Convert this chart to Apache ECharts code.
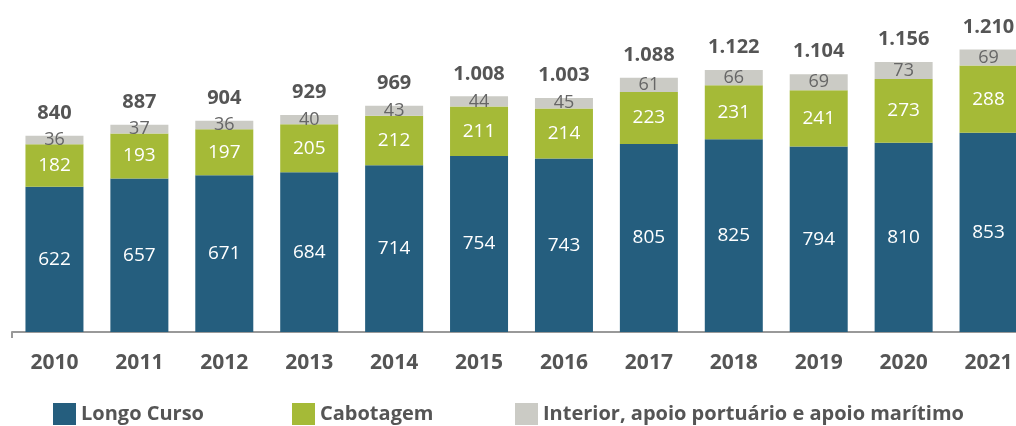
<!DOCTYPE html>
<html>
<head>
<meta charset="utf-8">
<script src="https://cdn.jsdelivr.net/npm/echarts@6/dist/echarts.min.js"></script>
<style>
  html, body { margin: 0; padding: 0; background: #fff; }
  #chart { width: 1016px; height: 426px; }
</style>
</head>
<body>
<div id="chart"></div>
<script>
var years = ['2010', '2011', '2012', '2013', '2014', '2015', '2016', '2017', '2018', '2019', '2020', '2021'];
var longoCurso = [622, 657, 671, 684, 714, 754, 743, 805, 825, 794, 810, 853];
var cabotagem = [182, 193, 197, 205, 212, 211, 214, 223, 231, 241, 273, 288];
var interior = [36, 37, 36, 40, 43, 44, 45, 61, 66, 69, 73, 69];
var totais = [840, 887, 904, 929, 969, 1008, 1003, 1088, 1122, 1104, 1156, 1210];

var textColor = '#555555';
var font = '"Open Sans", Lato, sans-serif';

function fmt(v) {
    return String(v).replace(/\B(?=(\d{3})+(?!\d))/g, '.');
}

var chartDom = document.getElementById('chart');
var myChart = echarts.init(chartDom);
var option;

option = {
    animation: false,
    textStyle: { fontFamily: font },
    grid: {
        left: 12,
        width: 1019,
        top: 5,
        bottom: 94,
        outerBoundsMode: 'none'
    },
    legend: [
        { data: ['Longo Curso'], left: 53, top: 403 },
        { data: ['Cabotagem'], left: 292, top: 403 },
        { data: ['Interior, apoio portuário e apoio marítimo'], left: 515, top: 403 }
    ].map(function (l) {
        l.itemWidth = 23;
        l.itemHeight = 22;
        l.itemGap = 8;
        l.padding = 0;
        l.icon = 'rect';
        l.textStyle = { color: textColor, fontSize: 20, fontWeight: 'bold', lineHeight: 22, fontFamily: font };
        return l;
    }),
    xAxis: {
        type: 'category',
        data: years,
        axisLine: { lineStyle: { color: '#999999', width: 2 } },
        axisTick: {
            show: true,
            length: 6,
            interval: function (index) { return index === 0; },
            lineStyle: { color: '#999999', width: 2 }
        },
        axisLabel: {
            color: textColor,
            fontSize: 21,
            fontWeight: 'bold',
            margin: 21,
            fontFamily: font
        }
    },
    yAxis: {
        type: 'value',
        min: 0,
        max: 1400,
        show: false
    },
    series: [{
        name: 'Longo Curso',
        type: 'bar',
        stack: 'total',
        barWidth: 58,
        data: longoCurso,
        itemStyle: { color: '#255E7E' },
        label: { show: true, position: 'inside', color: '#ffffff', fontSize: 19, fontFamily: font }
    },
    {
        name: 'Cabotagem',
        type: 'bar',
        stack: 'total',
        barWidth: 58,
        data: cabotagem,
        itemStyle: { color: '#A5BA37' },
        label: { show: true, position: 'inside', color: '#ffffff', fontSize: 19, fontFamily: font }
    },
    {
        name: 'Interior, apoio portuário e apoio marítimo',
        type: 'bar',
        stack: 'total',
        barWidth: 58,
        data: interior,
        itemStyle: { color: '#CBCBC5' },
        label: { show: true, position: 'inside', color: '#666666', fontSize: 18, fontFamily: font }
    },
    {
        name: 'Total',
        type: 'line',
        data: totais,
        symbol: 'circle',
        symbolSize: 1,
        itemStyle: { color: 'rgba(0,0,0,0)' },
        lineStyle: { width: 0, opacity: 0 },
        silent: true,
        label: {
            show: true,
            position: 'top',
            distance: 12,
            color: textColor,
            fontSize: 20,
            fontWeight: 'bold',
            fontFamily: font,
            formatter: function (p) { return fmt(p.value); }
        }
    }
    ]
};

myChart.setOption(option);
</script>
</body>
</html>
